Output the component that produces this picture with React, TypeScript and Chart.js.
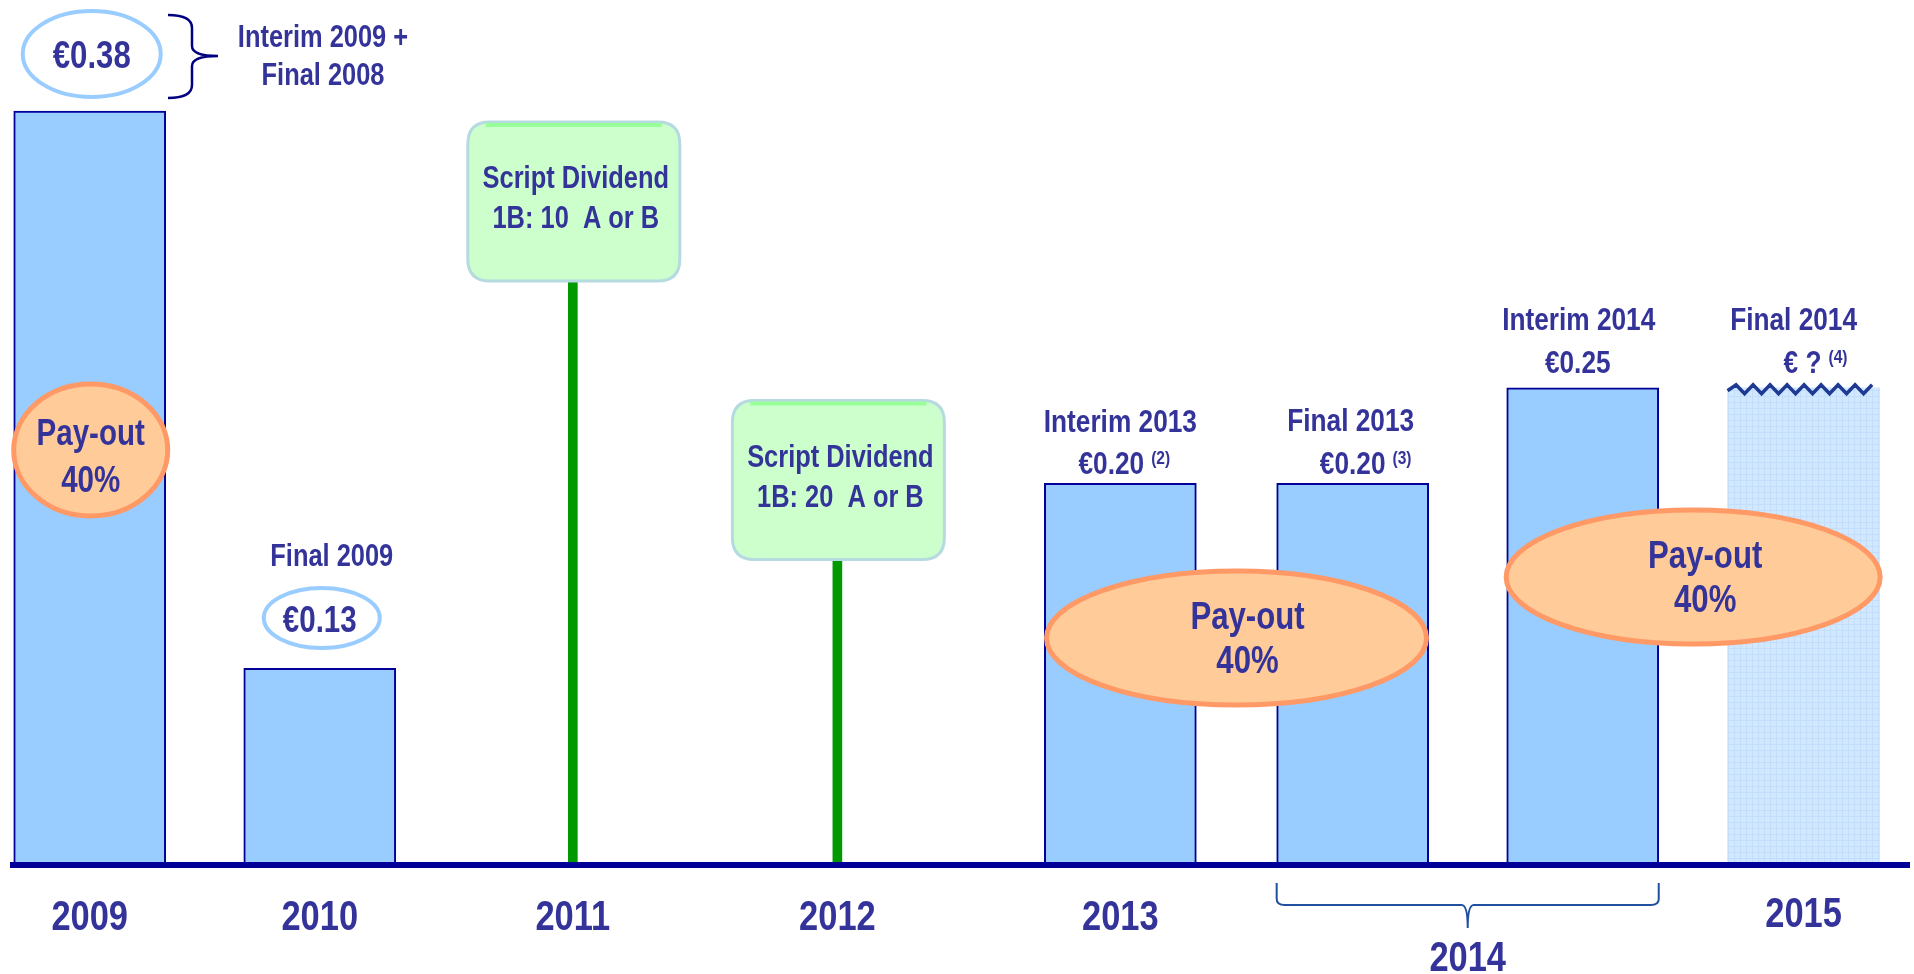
import React, { useEffect, useRef } from "react";
import { Chart, registerables } from "chart.js";

Chart.register(...registerables);

// ---- data ----
const barNames = ["2009", "2010", "Interim 2013", "Final 2013", "Interim 2014", "Final 2014"];
const barSlots = [0, 1, 4.48, 5.49, 6.49, 7.45];
const barHeights = [0.395, 0.103, 0.2, 0.2, 0.25, 0.25];
const dividendTexts = ["€0.38", "€0.13", "€0.20", "€0.20", "€0.25", "€ ?"];
const footnotes = ["", "", "(2)", "(3)", "", "(4)"];
const scriptSlots = [2.1, 3.25];
const scriptHeights = [0.306, 0.16];
const scriptTexts = [
  ["Script Dividend", "1B: 10  A or B"],
  ["Script Dividend", "1B: 20  A or B"],
];
const yearLabels = ["2009", "2010", "2011", "2012", "2013", "2014", "2015"];
const yearSlots = [0, 1, 2.1, 3.25, 4.48, 5.99, 7.45];
const payoutTexts = ["Pay-out", "40%"];

const FONT = '"Liberation Sans", Arial, sans-serif';
const NARROW = 0.82;
const TEXT = "#333399";
const NAVY = "#000099";

function font(size: number) {
  return `bold ${size}px ${FONT}`;
}

function measure(ctx: CanvasRenderingContext2D, s: string, size: number) {
  ctx.font = font(size);
  return ctx.measureText(s).width * NARROW;
}

function txt(ctx: CanvasRenderingContext2D, s: string, x: number, y: number, size: number, align: CanvasTextAlign = "center") {
  ctx.save();
  ctx.font = font(size);
  ctx.fillStyle = TEXT;
  ctx.textAlign = align;
  ctx.textBaseline = "alphabetic";
  ctx.translate(x, y);
  ctx.scale(NARROW, 1);
  ctx.fillText(s, 0, 0);
  ctx.restore();
}

function ellipse(ctx: CanvasRenderingContext2D, cx: number, cy: number, rx: number, ry: number, fill: string | null, stroke: string, lw: number) {
  ctx.beginPath();
  ctx.ellipse(cx, cy, rx, ry, 0, 0, Math.PI * 2);
  if (fill) {
    ctx.fillStyle = fill;
    ctx.fill();
  }
  ctx.lineWidth = lw;
  ctx.strokeStyle = stroke;
  ctx.stroke();
}

function valueWithNote(ctx: CanvasRenderingContext2D, main: string, note: string, cx: number, y: number) {
  const w1 = measure(ctx, main, 32);
  const w2 = note ? measure(ctx, note, 19) : 0;
  const gap = note ? 7 : 0;
  const start = cx - (w1 + gap + w2) / 2;
  txt(ctx, main, start, y, 32, "left");
  if (note) txt(ctx, note, start + w1 + gap, y - 10, 19, "left");
}

function roundRect(ctx: CanvasRenderingContext2D, x: number, y: number, w: number, h: number, r: number) {
  ctx.beginPath();
  ctx.moveTo(x + r, y);
  ctx.lineTo(x + w - r, y);
  ctx.quadraticCurveTo(x + w, y, x + w, y + r);
  ctx.lineTo(x + w, y + h - r);
  ctx.quadraticCurveTo(x + w, y + h, x + w - r, y + h);
  ctx.lineTo(x + r, y + h);
  ctx.quadraticCurveTo(x, y + h, x, y + h - r);
  ctx.lineTo(x, y + r);
  ctx.quadraticCurveTo(x, y, x + r, y);
  ctx.closePath();
}

function makePattern(): CanvasPattern | string {
  const c = document.createElement("canvas");
  c.width = 6;
  c.height = 6;
  const g = c.getContext("2d");
  if (!g) return "#CFE6FF";
  g.fillStyle = "#D2E8FF";
  g.fillRect(0, 0, 6, 6);
  g.fillStyle = "#C2DEFB";
  g.fillRect(0, 0, 6, 1);
  g.fillRect(0, 0, 1, 6);
  return g.createPattern(c, "repeat") || "#CFE6FF";
}

const annotations = {
  id: "annotations",
  afterDatasetsDraw(chart: any) {
    const ctx: CanvasRenderingContext2D = chart.ctx;
    const xs = chart.scales.x;
    const bars = chart.getDatasetMeta(0).data;
    const poles = chart.getDatasetMeta(1).data;
    const bx = (i: number) => bars[i].x;
    const by = (i: number) => bars[i].y;
    const bw = (i: number) => bars[i].width;
    ctx.save();

    // zigzag top of the unknown final 2014 bar
    {
      const l = bx(5) - bw(5) / 2;
      const y = by(5);
      ctx.beginPath();
      ctx.moveTo(l, y + 3);
      let up = true;
      let x = l + 8.5;
      for (let k = 0; k < 17; k++) {
        ctx.lineTo(x, up ? y - 3 : y + 6);
        up = !up;
        x += 8.5;
      }
      ctx.strokeStyle = "#1F3A93";
      ctx.lineWidth = 3.5;
      ctx.lineJoin = "miter";
      ctx.stroke();
    }

    // baseline
    ctx.beginPath();
    ctx.moveTo(10, chart.chartArea.bottom);
    ctx.lineTo(1910, chart.chartArea.bottom);
    ctx.strokeStyle = NAVY;
    ctx.lineWidth = 6;
    ctx.stroke();

    // 2009 header
    ellipse(ctx, bx(0) + 2, 54, 69, 43, "#FFFFFF", "#99CCFF", 4);
    txt(ctx, dividendTexts[0], bx(0) + 2, 68, 38);
    ctx.beginPath();
    ctx.moveTo(168, 15);
    ctx.quadraticCurveTo(192, 15, 192, 28);
    ctx.lineTo(192, 46);
    ctx.quadraticCurveTo(192, 56, 218, 56);
    ctx.quadraticCurveTo(192, 56, 192, 66);
    ctx.lineTo(192, 85);
    ctx.quadraticCurveTo(192, 98, 168, 98);
    ctx.strokeStyle = "#000080";
    ctx.lineWidth = 2.5;
    ctx.stroke();
    txt(ctx, "Interim 2009 +", 323, 47, 31);
    txt(ctx, "Final 2008", 323, 85, 31);

    // 2009 payout
    ellipse(ctx, bx(0) + 1, 450, 77, 66, "#FFCC99", "#FF9966", 5);
    txt(ctx, payoutTexts[0], bx(0) + 1, 445, 36);
    txt(ctx, payoutTexts[1], bx(0) + 1, 492, 36);

    // 2010
    txt(ctx, "Final 2009", bx(1) + 12, 566, 31);
    ellipse(ctx, bx(1) + 2, 618, 58, 30, "#FFFFFF", "#99CCFF", 4);
    txt(ctx, dividendTexts[1], bx(1), 632, 36);

    // script dividend boxes
    poles.forEach((p: any, i: number) => {
      const w = 212;
      const h = 159;
      const x = p.x - w / 2 + 1;
      const y = p.y - h;
      roundRect(ctx, x, y, w, h, 22);
      ctx.fillStyle = "#CCFFCC";
      ctx.fill();
      ctx.lineWidth = 3;
      ctx.strokeStyle = "#B5DAE0";
      ctx.stroke();
      ctx.beginPath();
      ctx.moveTo(x + 18, y + 3);
      ctx.lineTo(x + w - 18, y + 3);
      ctx.strokeStyle = "#99FF99";
      ctx.lineWidth = 4;
      ctx.stroke();
      txt(ctx, scriptTexts[i][0], p.x + 3, y + 66, 31);
      txt(ctx, scriptTexts[i][1], p.x + 3, y + 106, 31);
    });

    // bar headers 2013/2014
    txt(ctx, "Interim 2013", bx(2), by(2) - 51, 32);
    valueWithNote(ctx, dividendTexts[2], footnotes[2], bx(2) + 4, by(2) - 9);
    txt(ctx, "Final 2013", bx(3) - 2, by(3) - 52, 32);
    valueWithNote(ctx, dividendTexts[3], footnotes[3], bx(3) + 13, by(3) - 9);
    txt(ctx, "Interim 2014", bx(4) - 4, by(4) - 58, 32);
    valueWithNote(ctx, dividendTexts[4], footnotes[4], bx(4) - 5, by(4) - 15);
    txt(ctx, "Final 2014", bx(5) - 10, by(5) - 58, 32);
    valueWithNote(ctx, dividendTexts[5], footnotes[5], bx(5) + 12, by(5) - 15);

    // big payout ellipses
    {
      const cx1 = (bx(2) + bx(3)) / 2;
      ellipse(ctx, cx1, 638, 190, 67, "#FFCC99", "#FF9966", 5);
      txt(ctx, payoutTexts[0], cx1 + 11, 629, 38);
      txt(ctx, payoutTexts[1], cx1 + 11, 673, 38);
      const cx2 = (bx(4) + bx(5)) / 2;
      ellipse(ctx, cx2, 577, 187, 67, "#FFCC99", "#FF9966", 5);
      txt(ctx, payoutTexts[0], cx2 + 12, 568, 38);
      txt(ctx, payoutTexts[1], cx2 + 12, 612, 38);
    }

    // brace under 2014
    {
      const L = bx(3) - bw(3) / 2;
      const R = bx(4) + bw(4) / 2;
      const C = xs.getPixelForValue(yearSlots[5]);
      ctx.beginPath();
      ctx.moveTo(L, 883);
      ctx.lineTo(L, 899);
      ctx.quadraticCurveTo(L, 905, L + 8, 905);
      ctx.lineTo(C - 6, 905);
      ctx.quadraticCurveTo(C, 905, C, 928);
      ctx.quadraticCurveTo(C, 905, C + 6, 905);
      ctx.lineTo(R - 8, 905);
      ctx.quadraticCurveTo(R, 905, R, 899);
      ctx.lineTo(R, 883);
      ctx.strokeStyle = "#2050A0";
      ctx.lineWidth = 2;
      ctx.stroke();
    }

    // year labels
    yearLabels.forEach((lab, i) => {
      const x = xs.getPixelForValue(yearSlots[i]);
      const y = lab === "2014" ? 971 : lab === "2015" ? 927 : 930;
      txt(ctx, lab, x, y, 42);
    });

    ctx.restore();
  },
};

export default function App() {
  const ref = useRef<HTMLCanvasElement | null>(null);
  useEffect(() => {
    if (!ref.current) return;
    const pattern = makePattern();
    const chart = new Chart(ref.current, {
      type: "bar",
      data: {
        datasets: [
          {
            data: barSlots.map((x, i) => ({ x, y: barHeights[i] })),
            backgroundColor: barNames.map((n, i) => (i === 5 ? pattern : "#99CCFF")) as any,
            borderColor: NAVY,
            borderWidth: barNames.map((n, i) => (i === 5 ? 0 : 2)),
            borderSkipped: "bottom",
            barThickness: 152,
            grouped: false,
          } as any,
          {
            data: scriptSlots.map((x, i) => ({ x, y: scriptHeights[i] })),
            backgroundColor: "#009900",
            borderWidth: 0,
            barThickness: 9,
            grouped: false,
          } as any,
        ],
      },
      options: {
        responsive: false,
        animation: false,
        layout: { padding: { top: 6, bottom: 109, left: 0, right: 0 } },
        plugins: { legend: { display: false }, tooltip: { enabled: false } },
        scales: {
          x: { type: "linear", min: -0.39, max: 7.93, display: false, offset: false },
          y: { min: 0, max: 0.45, display: false },
        },
      },
      plugins: [annotations],
    });
    return () => chart.destroy();
  }, []);
  return (
    <div style={{ position: "fixed", left: 0, top: 0, width: 1914, height: 974, background: "#fff" }}>
      <canvas ref={ref} width={1914} height={974} style={{ display: "block" }} />
    </div>
  );
}
